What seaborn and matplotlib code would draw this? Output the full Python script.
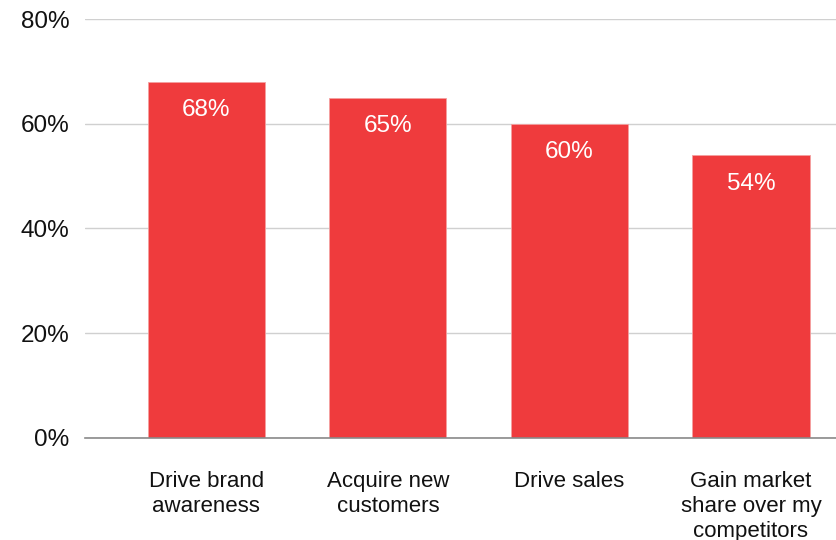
import matplotlib
matplotlib.use("Agg")
import matplotlib.pyplot as plt
import seaborn as sns
import pandas as pd

categories = ["Drive brand\nawareness", "Acquire new\ncustomers", "Drive sales",
              "Gain market\nshare over my\ncompetitors"]
values = [68, 65, 60, 54]
value_labels = ["68%", "65%", "60%", "54%"]
y_ticks = [0, 20, 40, 60, 80]
y_tick_labels = ["0%", "20%", "40%", "60%", "80%"]

sns.set_theme(style="white")
plt.rcParams["font.family"] = ["Liberation Sans", "DejaVu Sans"]

df = pd.DataFrame({"goal": categories, "share": values})

fig = plt.figure(figsize=(8.37, 5.40), dpi=100)
ax = fig.add_axes([85 / 837, 1 - 438 / 540, 1 - 85 / 837, (438 - 19) / 540])

sns.barplot(data=df, x="goal", y="share", color="#EF3B3D", saturation=1,
            width=0.645, ax=ax, edgecolor="#F4A0A0", linewidth=0.6)

ax.set_xlim(-0.669, 3.474)
ax.set_ylim(0, 80)
ax.set_yticks(y_ticks)
ax.set_yticklabels(y_tick_labels)
ax.yaxis.grid(True, color="#D0D0D0", linewidth=1)
ax.set_axisbelow(True)
ax.set_xlabel("")
ax.set_ylabel("")

for side in ["top", "right", "left"]:
    ax.spines[side].set_visible(False)
ax.spines["bottom"].set_color("#8A8A8A")
ax.spines["bottom"].set_linewidth(1.2)

ax.tick_params(axis="y", length=0, pad=11, labelsize=17.5, labelcolor="#111111")
ax.tick_params(axis="x", length=0, pad=24, labelsize=16, labelcolor="#111111")
for lbl in ax.get_xticklabels():
    lbl.set_linespacing(1.24)

for i, (v, txt) in enumerate(zip(values, value_labels)):
    ax.annotate(txt, xy=(i, v), xytext=(0, -20.5), textcoords="offset points",
                ha="center", va="center", color="white", fontsize=17.5)

fig.savefig("out.png", dpi=100)
